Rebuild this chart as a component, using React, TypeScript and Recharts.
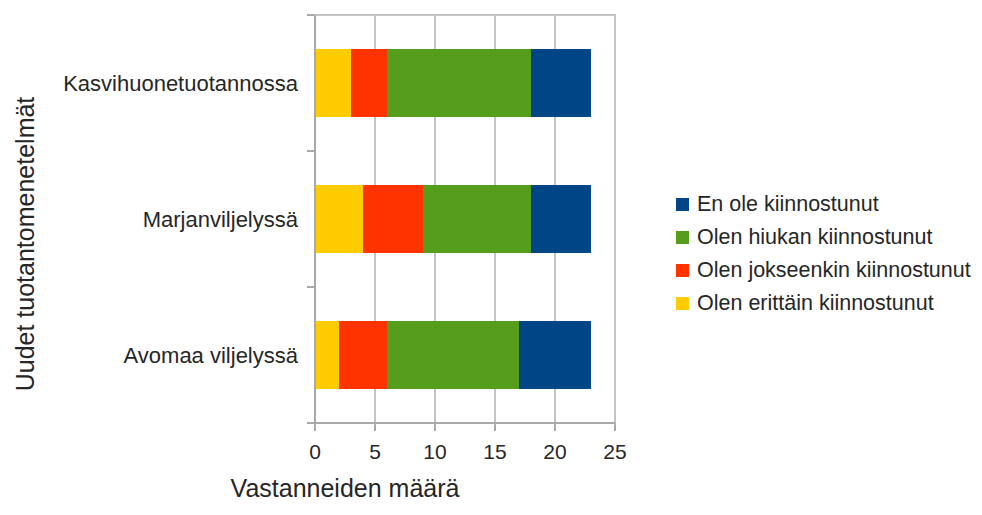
import { BarChart, Bar, XAxis, YAxis, CartesianGrid, Label } from "recharts";

const categories = ["Kasvihuonetuotannossa", "Marjanviljelyssä", "Avomaa viljelyssä"];
const erittain = [3, 4, 2];
const jokseenkin = [3, 5, 4];
const hiukan = [12, 9, 11];
const eiOle = [5, 5, 6];
const xTicks = [0, 5, 10, 15, 20, 25];

const series = [
  { key: "erittain", name: "Olen erittäin kiinnostunut", color: "#FFCC00" },
  { key: "jokseenkin", name: "Olen jokseenkin kiinnostunut", color: "#FF3300" },
  { key: "hiukan", name: "Olen hiukan kiinnostunut", color: "#579D1C" },
  { key: "eiOle", name: "En ole kiinnostunut", color: "#004586" },
];

const data = categories.map((name, i) => ({
  name,
  erittain: erittain[i],
  jokseenkin: jokseenkin[i],
  hiukan: hiukan[i],
  eiOle: eiOle[i],
}));

const FONT = "'Liberation Sans', Arial, sans-serif";
const TEXT = "#262626";
const AXIS = "#a9a9a9";
const GRID = "#c4c4c4";

const W = 966;
const H = 499;
const MARGIN = { top: 7, right: 359, bottom: 0, left: 0 };
const Y_AXIS_W = 307;
const X_AXIS_H = 84;
const TICK_SIZE = 8;
const TICK_MARGIN = 9;
const BAND = (H - MARGIN.top - X_AXIS_H) / categories.length;

// category label plus tick marks on the band edges (like the original)
const CategoryTick = (props: any) => {
  const { x, y, payload } = props;
  const axisX = x + TICK_SIZE + TICK_MARGIN;
  return (
    <g>
      <line x1={axisX - TICK_SIZE} x2={axisX} y1={y - BAND / 2} y2={y - BAND / 2} stroke={AXIS} strokeWidth={2} />
      <line x1={axisX - TICK_SIZE} x2={axisX} y1={y + BAND / 2} y2={y + BAND / 2} stroke={AXIS} strokeWidth={2} />
      <text x={x} y={y} dy="0.36em" textAnchor="end" fill={TEXT} fontSize={22} fontFamily={FONT}>
        {payload.value}
      </text>
    </g>
  );
};

const ChartLegend = () => (
  <div style={{ position: "absolute", left: 668, top: 180, fontFamily: FONT, fontSize: 21.5, color: TEXT }}>
    {[...series].reverse().map((s) => (
      <div key={s.key} style={{ display: "flex", alignItems: "center", height: 33, whiteSpace: "nowrap" }}>
        <span style={{ display: "inline-block", width: 13, height: 13, background: s.color, marginRight: 8 }} />
        {s.name}
      </div>
    ))}
  </div>
);

// upper edge of the plot frame
const TopFrame = () => (
  <div
    style={{
      position: "absolute",
      left: MARGIN.left + Y_AXIS_W,
      top: MARGIN.top - 1,
      width: W - MARGIN.right - MARGIN.left - Y_AXIS_W + 1,
      height: 2,
      background: GRID,
      pointerEvents: "none",
    }}
  />
);

export default function App() {
  return (
    <div style={{ position: "relative", width: W, height: H }}>
      <BarChart width={W} height={H} data={data} layout="vertical" margin={MARGIN} barCategoryGap="25%">
        <CartesianGrid horizontal={false} stroke={GRID} strokeWidth={2} />
        <XAxis
          type="number"
          domain={[0, 25]}
          ticks={xTicks}
          height={X_AXIS_H}
          tickSize={TICK_SIZE}
          tickMargin={13}
          stroke={AXIS}
          strokeWidth={2}
          tick={{ fill: TEXT, fontSize: 21, fontFamily: FONT }}
        >
          <Label
            content={({ viewBox }: any) => (
              <text
                x={viewBox.x + viewBox.width / 2 - 120}
                y={viewBox.y + 74}
                textAnchor="middle"
                fill={TEXT}
                fontSize={25}
                fontFamily={FONT}
              >
                Vastanneiden määrä
              </text>
            )}
          />
        </XAxis>
        <YAxis
          type="category"
          dataKey="name"
          width={Y_AXIS_W}
          tickLine={false}
          tickSize={TICK_SIZE}
          tickMargin={TICK_MARGIN}
          stroke={AXIS}
          strokeWidth={2}
          tick={<CategoryTick />}
        >
          <Label
            content={({ viewBox }: any) => {
              const cx = 17;
              const cy = viewBox.y + viewBox.height / 2 + 25;
              return (
                <text
                  x={cx}
                  y={cy}
                  transform={`rotate(-90 ${cx} ${cy})`}
                  textAnchor="middle"
                  dominantBaseline="central"
                  fill={TEXT}
                  fontSize={25}
                  fontFamily={FONT}
                >
                  Uudet tuotantomenetelmät
                </text>
              );
            }}
          />
        </YAxis>
        {series.map((s) => (
          <Bar key={s.key} dataKey={s.key} name={s.name} stackId="a" fill={s.color} isAnimationActive={false} />
        ))}
      </BarChart>
      <TopFrame />
      <ChartLegend />
    </div>
  );
}
